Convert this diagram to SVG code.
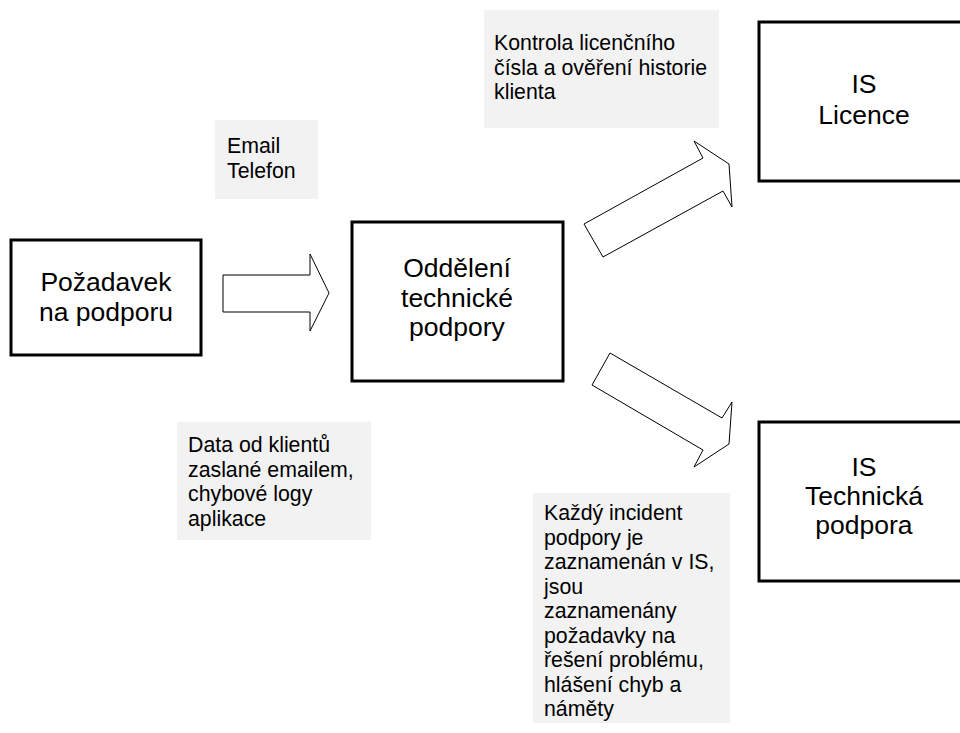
<svg xmlns="http://www.w3.org/2000/svg" width="960" height="733" viewBox="0 0 960 733">
<style>
.box{fill:#fff;stroke:#000;stroke-width:3}
.arrow{fill:#fff;stroke:#000;stroke-width:1;stroke-linejoin:miter}
.lbl{fill:#f2f2f2;stroke:none}
.big{font-family:"Liberation Sans",Arial,sans-serif;font-size:26.5px;fill:#000;text-anchor:middle}
.sm{font-family:"Liberation Sans",Arial,sans-serif;font-size:21.3px;fill:#000}
</style>
<rect width="960" height="733" fill="#fff"/>
<g id="connectors">
<polygon class="arrow" points="223,275 310,275 310,254 329,293 310,331 310,312 223,312"/>
<polygon class="arrow" points="584,224 703,158 694,141 729,164 732,207 723,191 603,257"/>
<polygon class="arrow" points="610,353 722,418 732,402 729,444 694,467 703,450 592,385"/>
</g>
<g id="node-pozadavek">
<rect class="box" x="11" y="240" width="190" height="115"/>
<text class="big" x="106" y="291">Požadavek</text>
<text class="big" x="106" y="321">na podporu</text>
</g>
<g id="node-oddeleni">
<rect class="box" x="352" y="222" width="211" height="159"/>
<text class="big" x="457" y="277">Oddělení</text>
<text class="big" x="457" y="307">technické</text>
<text class="big" x="457" y="336">podpory</text>
</g>
<g id="node-is-licence">
<rect class="box" x="759" y="22" width="211" height="159"/>
<text class="big" x="864" y="93">IS</text>
<text class="big" x="864" y="124">Licence</text>
</g>
<g id="node-is-technicka">
<rect class="box" x="759" y="422" width="211" height="159"/>
<text class="big" x="864" y="476">IS</text>
<text class="big" x="864" y="505">Technická</text>
<text class="big" x="864" y="534">podpora</text>
</g>
<g id="label-email">
<rect class="lbl" x="215" y="120" width="103" height="79"/>
<text class="sm" x="227" y="153">Email</text>
<text class="sm" x="227" y="178">Telefon</text>
</g>
<g id="label-kontrola">
<rect class="lbl" x="484" y="10" width="235" height="118"/>
<text class="sm" x="494" y="50">Kontrola licenčního</text>
<text class="sm" x="494" y="74.5">čísla a ověření historie</text>
<text class="sm" x="494" y="99">klienta</text>
</g>
<g id="label-data">
<rect class="lbl" x="177" y="422" width="194" height="118"/>
<text class="sm" x="188" y="452">Data od klientů</text>
<text class="sm" x="188" y="476.5">zaslané emailem,</text>
<text class="sm" x="188" y="501">chybové logy</text>
<text class="sm" x="188" y="525.5">aplikace</text>
</g>
<g id="label-kazdy">
<rect class="lbl" x="533" y="493" width="197" height="230"/>
<text class="sm" x="544" y="520">Každý incident</text>
<text class="sm" x="544" y="544.5">podpory je</text>
<text class="sm" x="544" y="569">zaznamenán v IS,</text>
<text class="sm" x="544" y="593.5">jsou</text>
<text class="sm" x="544" y="618">zaznamenány</text>
<text class="sm" x="544" y="642.5">požadavky na</text>
<text class="sm" x="544" y="667">řešení problému,</text>
<text class="sm" x="544" y="691.5">hlášení chyb a</text>
<text class="sm" x="544" y="716">náměty</text>
</g>
</svg>
